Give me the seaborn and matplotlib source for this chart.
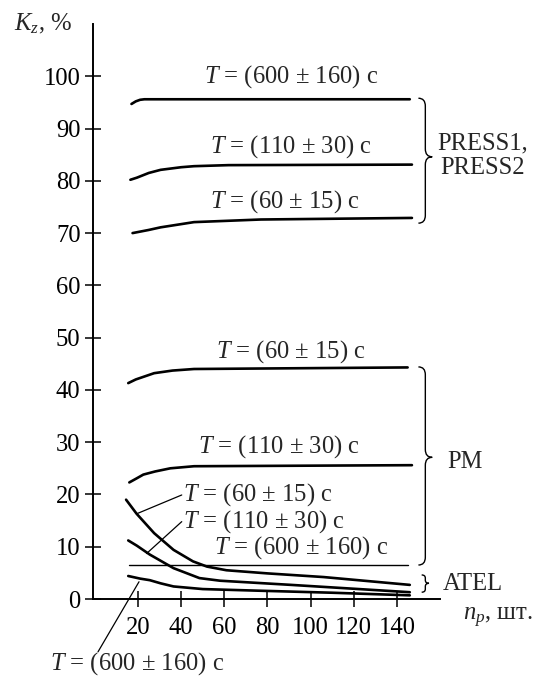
import matplotlib
matplotlib.use("Agg")
import matplotlib.pyplot as plt
import seaborn as sns
import pandas as pd
from matplotlib.path import Path
from matplotlib.patches import PathPatch

# ---------------- data ----------------
press_600_x = [17, 19, 21, 23, 26, 30, 146]
press_600_y = [94.7, 95.2, 95.5, 95.6, 95.6, 95.6, 95.6]
press_110_x = [16.5, 19.5, 25, 30.5, 40, 46, 62, 147]
press_110_y = [80.2, 80.6, 81.5, 82.1, 82.6, 82.8, 83.0, 83.1]
press_60_x = [17.5, 25, 30.5, 46, 77, 147]
press_60_y = [70.0, 70.6, 71.1, 72.1, 72.6, 72.9]

pm_60_x = [15.5, 19, 27.5, 36, 46, 145]
pm_60_y = [41.3, 42.0, 43.2, 43.7, 44.0, 44.3]
pm_110_x = [16, 19.5, 22.5, 28, 35, 46, 147]
pm_110_y = [22.3, 23.1, 23.8, 24.4, 25.0, 25.4, 25.6]
pm_600_x = [16, 145]
pm_600_y = [6.5, 6.5]

atel_60_x = [14.5, 19.4, 27.5, 36.5, 45.5, 52, 61, 80, 106, 146]
atel_60_y = [19.0, 16.3, 12.6, 9.4, 7.2, 6.2, 5.5, 4.9, 4.2, 2.7]
atel_110_x = [15.5, 19.5, 25.5, 36.5, 48.5, 58, 91, 146]
atel_110_y = [11.2, 10.2, 8.5, 5.9, 4.0, 3.5, 2.7, 1.3]
atel_600_x = [15.5, 21, 25.5, 30.5, 36.5, 50, 75, 110, 146]
atel_600_y = [4.4, 3.9, 3.6, 3.0, 2.4, 1.9, 1.6, 1.2, 0.7]

x_ticks = [20, 40, 60, 80, 100, 120, 140]
y_ticks = [0, 10, 20, 30, 40, 50, 60, 70, 80, 90, 100]

lbl_600 = "$T$ = (600 ± 160) с"
lbl_110 = "$T$ = (110 ± 30) с"
lbl_60 = "$T$ = (60 ± 15) с"

# ---------------- style ----------------
sns.set_theme(style="ticks")
plt.rcParams["font.family"] = ["Liberation Serif", "DejaVu Serif"]
plt.rcParams["mathtext.fontset"] = "custom"
plt.rcParams["mathtext.rm"] = "Liberation Serif"
plt.rcParams["mathtext.it"] = "Liberation Serif:italic"
plt.rcParams["mathtext.bf"] = "Liberation Serif:bold"
FS = 17.7

fig = plt.figure(figsize=(5.35, 6.77), dpi=100)
fig.patch.set_facecolor("white")
ax = fig.add_axes([93 / 535, 78 / 677, 347 / 535, 575 / 677])
ax.set_facecolor("white")

thick = [
    (press_600_x, press_600_y), (press_110_x, press_110_y), (press_60_x, press_60_y),
    (pm_60_x, pm_60_y), (pm_110_x, pm_110_y),
    (atel_60_x, atel_60_y), (atel_110_x, atel_110_y), (atel_600_x, atel_600_y),
]
for xs, ys in thick:
    sns.lineplot(x=xs, y=ys, ax=ax, color="black", lw=1.9, estimator=None, sort=True)
sns.lineplot(x=pm_600_x, y=pm_600_y, ax=ax, color="black", lw=1.0, estimator=None)

ax.set_xlim(-0.83, 160)
ax.set_ylim(0, 110)
ax.set_xticks(x_ticks)
ax.set_yticks(y_ticks)
ax.set_xlabel("")
ax.set_ylabel("")
for s in ["top", "right"]:
    ax.spines[s].set_visible(False)
for s in ["left", "bottom"]:
    ax.spines[s].set_linewidth(1.4)
    ax.spines[s].set_color("black")
ax.tick_params(axis="both", direction="inout", length=12, width=1.1,
               colors="black", labelsize=FS)
ax.tick_params(axis="y", pad=3.0)
ax.tick_params(axis="x", pad=7)

# ---------------- curve labels ----------------
ax.text(90.9, 99.9, lbl_600, ha="center", va="center", fontsize=FS)
ax.text(90.9, 86.5, lbl_110, ha="center", va="center", fontsize=FS)
ax.text(88.1, 76.0, lbl_60, ha="center", va="center", fontsize=FS)
ax.text(90.9, 47.3, lbl_60, ha="center", va="center", fontsize=FS)
ax.text(85.4, 29.1, lbl_110, ha="center", va="center", fontsize=FS)
ax.text(95.8, 9.8, lbl_600, ha="center", va="center", fontsize=FS)

ax.plot([19.4, 40.3], [16.3, 19.9], color="black", lw=0.9)
ax.text(40.9, 19.9, lbl_60, ha="left", va="center", fontsize=FS)
ax.plot([24.0, 40.3], [8.7, 14.8], color="black", lw=0.9)
ax.text(40.9, 14.8, lbl_110, ha="left", va="center", fontsize=FS)
ax.plot([20.5, 1.5], [3.3, -10.1], color="black", lw=0.9, clip_on=False)
ax.text(-20.8, -12.3, lbl_600, ha="left", va="center", fontsize=FS, clip_on=False)


# ---------------- braces ----------------
def brace(x0, y0, y1, ym, w, h, lw=1.0):
    xm = x0 + w * 0.5
    verts = [(x0, y1), (xm, y1), (xm, y1 - h),
             (xm, ym + h),
             (xm, ym), (x0 + w, ym),
             (xm, ym), (xm, ym - h),
             (xm, y0 + h),
             (xm, y0), (x0, y0)]
    codes = [Path.MOVETO, Path.CURVE3, Path.CURVE3, Path.LINETO,
             Path.CURVE3, Path.CURVE3, Path.CURVE3, Path.CURVE3,
             Path.LINETO, Path.CURVE3, Path.CURVE3]
    ax.add_patch(PathPatch(Path(verts, codes), fill=False, lw=lw,
                           edgecolor="black", clip_on=False))


brace(150.0, 71.9, 95.8, 84.6, 6.4, 1.5)
brace(150.0, 6.5, 44.4, 27.1, 6.4, 1.5)
brace(151.5, 1.3, 4.6, 3.0, 3.4, 0.6)

ax.text(179.7, 84.8, "PRESS1,\nPRESS2", ha="center", va="center",
        multialignment="center", fontsize=FS, linespacing=1.1, clip_on=False)
ax.text(163.3, 26.2, "PM", ha="left", va="center", fontsize=FS, clip_on=False)
ax.text(161.5, 2.8, "ATEL", ha="left", va="center", fontsize=FS, clip_on=False)

# axis titles
ax.text(170.6, -3.6, "$n_p$, шт.", ha="left", va="center", fontsize=FS, clip_on=False)
fig.text(14 / 535, (677 - 30) / 677, "$K_z$, %", ha="left", va="baseline", fontsize=FS)

fig.savefig("out.png", dpi=100, facecolor="white")
